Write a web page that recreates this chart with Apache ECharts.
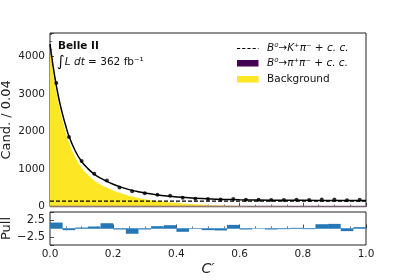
<!DOCTYPE html>
<html>
<head>
<meta charset="utf-8">
<script src="https://cdn.jsdelivr.net/npm/echarts@6/dist/echarts.min.js"></script>
<style>html,body{margin:0;padding:0;background:#fff}#c{width:407px;height:280px}</style>
</head>
<body>
<div id="c"></div>
<script>
// ---- data ----
const binWidth = 0.04;
const binCenters = [0.02,0.06,0.10,0.14,0.18,0.22,0.26,0.30,0.34,0.38,0.42,0.46,0.50,0.54,0.58,0.62,0.66,0.70,0.74,0.78,0.82,0.86,0.90,0.94,0.98];
const counts = [3300,1860,1220,880,700,515,410,360,320,295,240,215,205,195,205,185,185,180,180,182,178,195,195,170,183];
const pulls = [1.8,-0.5,0.3,0.6,1.6,-0.3,-1.6,-0.3,0.7,1.0,-1.0,-0.1,-0.5,-0.6,1.1,-0.3,0.0,-0.3,-0.2,0.2,-0.2,1.3,1.4,-0.8,0.4];
const curveX = [0,0.01,0.02,0.03,0.04,0.05,0.06,0.08,0.10,0.12,0.14,0.16,0.18,0.20,0.22,0.24,0.26,0.28,0.30,0.34,0.38,0.42,0.46,0.50,0.55,0.60,0.70,0.80,0.90,1.00];
const bkgCurve = [4170,3570,3060,2640,2290,1985,1710,1320,1040,850,700,595,510,435,370,316,270,233,200,150,115,85,62,45,30,20,9,4,2,1];
const pipiCurve = [15,15,15,15,15,15,15,15,15,15,15,15,15,15,15,15,15,15,15,15,15,15,15,15,15,15,15,15,15,15];
const kpiCurve = [150,150,150,150,150,150,150,150,150,150,150,150,150,150,150,150,150,150,150,150,150,150,150,150,150,150,150,150,150,150];
const yTicksMain = [0,1000,2000,3000,4000];
const pullTickLabels = [-2.5, 2.5];
const xTickLabels = [0.0,0.2,0.4,0.6,0.8,1.0];

const FONT = 'DejaVu Sans';
const totalCurve = curveX.map((x,i)=>bkgCurve[i]+pipiCurve[i]+kpiCurve[i]);
const pair = (xs, ys) => xs.map((x,i)=>[x, ys[i]]);

const chart = echarts.init(document.getElementById('c'), null, {renderer:'canvas'});
const tickStyle = {show:true, inside:true, length:4, lineStyle:{color:'#222', width:0.8}};
const minorStyle = {show:true, splitNumber:4, length:2.2, lineStyle:{color:'#222', width:0.6}};

const option = {
  animation:false,
  textStyle:{fontFamily:FONT},
  grid:[
    {left:50, top:33, width:316, height:173.7, show:true, borderColor:'#222', borderWidth:1, backgroundColor:'transparent', containLabel:false, outerBoundsMode:'none'},
    {left:50, top:212, width:316, height:33, show:true, borderColor:'#222', borderWidth:1, backgroundColor:'transparent', containLabel:false, outerBoundsMode:'none'}
  ],
  xAxis:[
    {type:'value', gridIndex:0, min:0, max:1, interval:0.2, axisLine:{show:false}, axisLabel:{show:false},
     axisTick:tickStyle, minorTick:minorStyle, splitLine:{show:false}},
    {type:'value', gridIndex:1, min:0, max:1, interval:0.2, axisLine:{show:false},
     axisLabel:{fontSize:10.5, color:'#222', margin:4, formatter:v=>xTickLabels.some(t=>Math.abs(t-v)<1e-9)?v.toFixed(1):''},
     axisTick:tickStyle, minorTick:minorStyle, splitLine:{show:false},
     name:'C\u2032', nameLocation:'middle', nameGap:17, nameMoveOverlap:false, nameTextStyle:{fontSize:14, fontStyle:'italic', color:'#222', verticalAlign:'top'}}
  ],
  yAxis:[
    {type:'value', gridIndex:0, min:0, max:4630, interval:1000, axisLine:{show:false},
     axisLabel:{fontSize:10.5, color:'#222', margin:5, formatter:v=>yTicksMain.includes(v)?String(v):''},
     axisTick:tickStyle, minorTick:Object.assign({}, minorStyle, {splitNumber:5}), splitLine:{show:false},
     name:'Cand. / 0.04', nameLocation:'middle', nameGap:37, nameMoveOverlap:false, nameTextStyle:{fontSize:13, color:'#222'}},
    {type:'value', gridIndex:1, min:-5, max:5, interval:2.5, axisLine:{show:false},
     axisLabel:{fontSize:11.5, color:'#222', margin:5, formatter:v=>pullTickLabels.includes(v)?(v<0?'\u2212'+Math.abs(v):String(v)):''},
     axisTick:tickStyle, splitLine:{show:false},
     name:'Pull', nameLocation:'middle', nameGap:37, nameMoveOverlap:false, nameTextStyle:{fontSize:13, color:'#222'}}
  ],
  series:[
    {name:'Background', type:'line', xAxisIndex:0, yAxisIndex:0, stack:'fit', smooth:0.4, showSymbol:false,
     data:pair(curveX,bkgCurve), lineStyle:{width:0}, areaStyle:{color:'#fde725', opacity:1}, z:1},
    {name:'pipi', type:'line', xAxisIndex:0, yAxisIndex:0, stack:'fit', smooth:0.4, showSymbol:false,
     data:pair(curveX,pipiCurve), lineStyle:{width:0.8, color:'#8a6a9a'}, areaStyle:{color:'#440154', opacity:0.35}, z:2},
    {name:'Kpi', type:'line', xAxisIndex:0, yAxisIndex:0, showSymbol:false,
     data:pair(curveX,kpiCurve), lineStyle:{width:1.2, color:'#000', type:[4,2]}, z:3},
    {name:'Total', type:'line', xAxisIndex:0, yAxisIndex:0, smooth:0.4, showSymbol:false,
     data:pair(curveX,totalCurve), lineStyle:{width:1.5, color:'#000'}, z:4},
    {name:'Data', type:'scatter', xAxisIndex:0, yAxisIndex:0, symbol:'circle', symbolSize:4,
     data:pair(binCenters,counts), itemStyle:{color:'#000'}, z:5},
    {name:'PullZero', type:'line', xAxisIndex:1, yAxisIndex:1, showSymbol:false,
     data:[[0,0],[1,0]], lineStyle:{width:1.2, color:'#8fc0e4'}, z:1},
    {name:'Pulls', type:'custom', xAxisIndex:1, yAxisIndex:1,
     data:pair(binCenters,pulls),
     renderItem:function(params, api){
       const c = api.value(0), p = api.value(1);
       const a = api.coord([c-binWidth/2, Math.max(p,0)]);
       const b = api.coord([c+binWidth/2, Math.min(p,0)]);
       return {type:'rect', shape:{x:a[0], y:a[1], width:b[0]-a[0], height:b[1]-a[1]},
               style:{fill:'#2677b5'}};
     }, z:2}
  ],
  graphic:[
    {type:'text', left:58, top:41, style:{text:'Belle II', font:'bold 10.5px "DejaVu Sans"', fill:'#111'}},
    {type:'text', left:57, top:55, style:{
      text:'{i|\u222B}{it|L dt}{n| = 362 fb\u207B\u00B9}',
      rich:{
        i:{fontSize:15, fontFamily:FONT, fill:'#111', fontStyle:'italic'},
        it:{fontSize:10.5, fontFamily:FONT, fontStyle:'italic', fill:'#111'},
        n:{fontSize:10.5, fontFamily:FONT, fill:'#111'}
      }}},
    {type:'line', shape:{x1:237, y1:48.5, x2:258.5, y2:48.5}, style:{stroke:'#000', lineWidth:1.2, lineDash:[3.2,2]}},
    {type:'rect', shape:{x:237, y:60, width:21.5, height:6.5}, style:{fill:'#440154'}},
    {type:'rect', shape:{x:237, y:76, width:21.5, height:6.5}, style:{fill:'#fde725'}},
    {type:'text', x:267, y:48.5, style:{text:'B\u2070\u2192K\u207A\u03C0\u207B + c. c.', font:'italic 10.5px "DejaVu Sans"', fill:'#111', verticalAlign:'middle'}},
    {type:'text', x:267, y:63.5, style:{text:'B\u2070\u2192\u03C0\u207A\u03C0\u207B + c. c.', font:'italic 10.5px "DejaVu Sans"', fill:'#111', verticalAlign:'middle'}},
    {type:'text', x:267, y:79, style:{text:'Background', font:'10.5px "DejaVu Sans"', fill:'#111', verticalAlign:'middle'}}
  ]
};
chart.setOption(option);
</script>
</body>
</html>
